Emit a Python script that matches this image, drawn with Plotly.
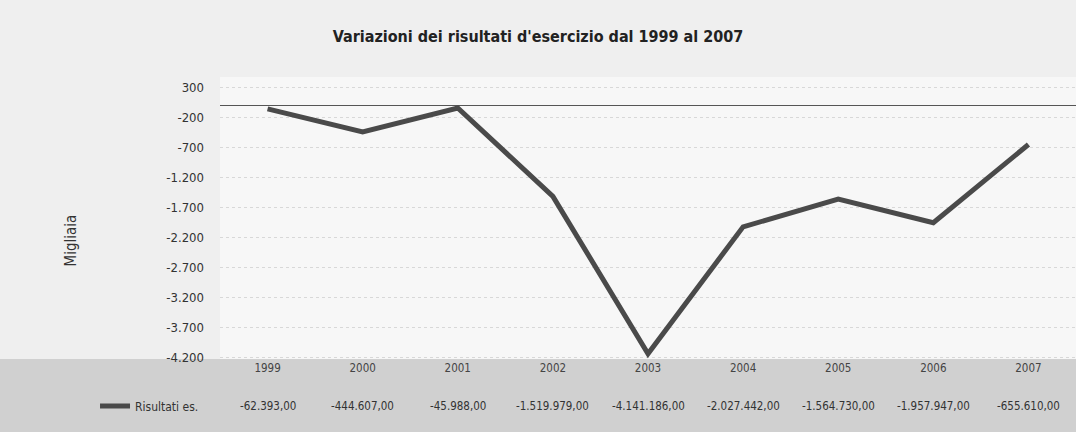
import plotly.graph_objects as go

# Risultati d'esercizio (euro), 1999-2007
years = ["1999", "2000", "2001", "2002", "2003", "2004", "2005", "2006", "2007"]
risultati = [-62393.00, -444607.00, -45988.00, -1519979.00, -4141186.00,
             -2027442.00, -1564730.00, -1957947.00, -655610.00]

tick_vals = [300, -200, -700, -1200, -1700, -2200, -2700, -3200, -3700, -4200]
tick_text = ["300", "-200", "-700", "-1.200", "-1.700", "-2.200", "-2.700",
             "-3.200", "-3.700", "-4.200"]


def it_fmt(v):
    # 1,234.00 -> 1.234,00
    s = f"{v:,.2f}"
    return s.replace(",", "#").replace(".", ",").replace("#", ".")


migliaia = [v / 1000 for v in risultati]

fig = go.Figure()
fig.add_trace(go.Scatter(
    x=years,
    y=migliaia,
    mode="lines",
    name="Risultati es.",
    line=dict(color="#4a4a4a", width=5),
))

# data table row under the chart (x = category index)
for i, v in enumerate(risultati):
    fig.add_annotation(
        x=i, xref="x", y=-0.167, yref="paper", yanchor="middle",
        text=it_fmt(v), showarrow=False,
        font=dict(size=11.5, color="#333333", family="DejaVu Sans Condensed"),
    )

fig.add_annotation(
    x=-0.187, xref="paper", y=0.42, yref="paper",
    text="Migliaia", textangle=-90, showarrow=False,
    font=dict(size=15, color="#333333", family="DejaVu Sans Condensed"),
)

# darker scanned band at the bottom
fig.add_shape(
    type="rect", xref="paper", yref="paper",
    x0=-0.3, x1=1.05, y0=0, y1=-0.3,
    fillcolor="#d0d0d0", line=dict(width=0), layer="below",
)

fig.update_layout(
    width=1076,
    height=432,
    title=dict(
        text="<b>Variazioni dei risultati d'esercizio dal 1999 al 2007</b>",
        x=0.5, xanchor="center", y=0.915, yanchor="middle",
        font=dict(size=16, color="#222222", family="DejaVu Sans Condensed"),
    ),
    margin=dict(l=220, r=0, t=77, b=73),
    paper_bgcolor="#efefef",
    plot_bgcolor="#f7f7f7",
    showlegend=True,
    legend=dict(
        x=-0.146, xanchor="left", y=-0.167, yanchor="middle",
        bgcolor="rgba(0,0,0,0)",
        font=dict(size=12, color="#333333", family="DejaVu Sans Condensed"),
    ),
    xaxis=dict(
        type="category",
        range=[-0.5, len(years) - 0.5],
        showgrid=False,
        showline=False,
        ticks="",
        tickfont=dict(size=11.5, color="#444444", family="DejaVu Sans Condensed"),
    ),
    yaxis=dict(
        range=[-4230, 470],
        tickvals=tick_vals,
        ticktext=tick_text,
        showgrid=True,
        gridcolor="#d8d8d8",
        griddash="dot",
        zeroline=True,
        zerolinecolor="#555555",
        zerolinewidth=1,
        ticks="",
        ticklabelstandoff=15,
        tickfont=dict(size=13, color="#333333", family="DejaVu Sans Condensed"),
    ),
)

fig.write_html("out.html", config={"displayModeBar": False},
               post_script="document.body.style.margin='0';")
